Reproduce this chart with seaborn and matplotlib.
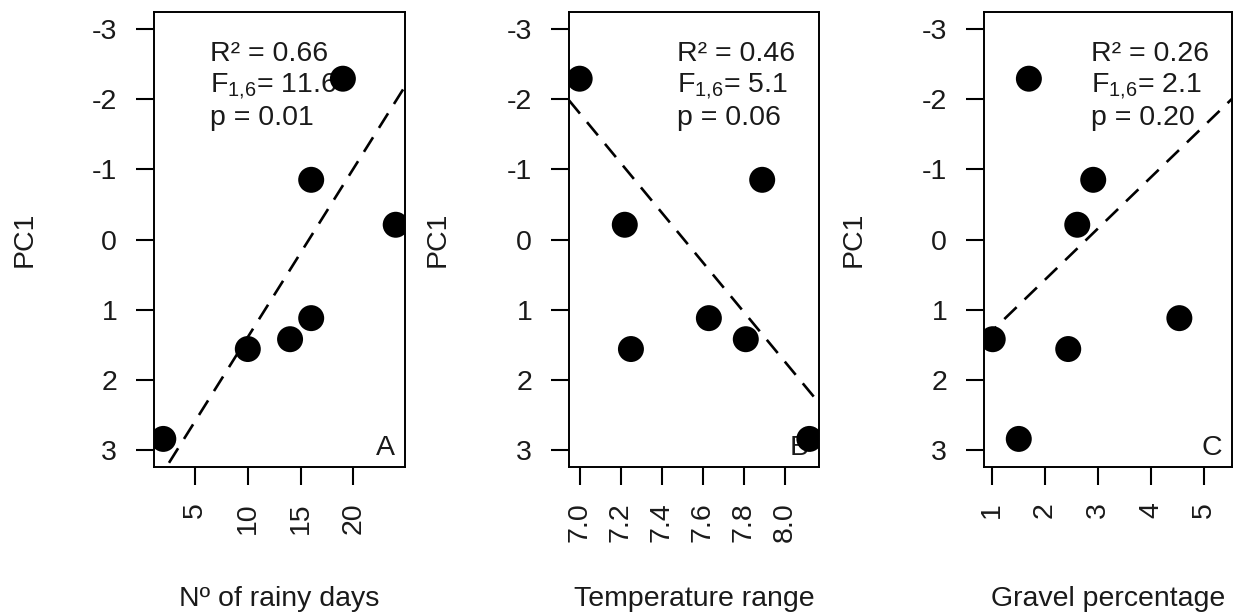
import numpy as np
import pandas as pd
import matplotlib
matplotlib.use("Agg")
import matplotlib.pyplot as plt
import seaborn as sns

# ---- data ----
pc1 = [2.84, 1.56, 1.42, 1.12, -0.85, -2.29, -0.21]
rainy_days = [2, 10, 14, 16, 16, 19, 24]
temp_range = [8.12, 7.25, 7.81, 7.63, 7.89, 7.00, 7.22]
gravel_pct = [1.51, 2.44, 1.02, 4.53, 2.91, 1.70, 2.61]

x_labels = ["Nº of rainy days", "Temperature range", "Gravel percentage"]
panel_letters = ["A", "B", "C"]
r2_text = ["0.66", "0.46", "0.26"]
f_text = ["11.6", "5.1", "2.1"]
p_text = ["0.01", "0.06", "0.20"]
fit_intercept = [3.79, -26.55, 2.04]
fit_slope = [-0.240, 3.536, -0.7325]
x_ticks = [[5, 10, 15, 20], [7.0, 7.2, 7.4, 7.6, 7.8, 8.0], [1, 2, 3, 4, 5]]
x_tick_labels = [["5", "10", "15", "20"],
                 ["7.0", "7.2", "7.4", "7.6", "7.8", "8.0"],
                 ["1", "2", "3", "4", "5"]]
x_limits = [(1.12, 24.88), (6.948, 8.167), (0.856, 5.52)]
y_ticks = [-3, -2, -1, 0, 1, 2, 3]

sns.set_theme(style="white")
plt.rcParams["font.family"] = ["Liberation Sans", "DejaVu Sans"]
plt.rcParams["mathtext.default"] = "regular"

W, H = 1234, 614
fig = plt.figure(figsize=(W / 100, H / 100), dpi=100)
fig.patch.set_facecolor("white")

lefts = [154, 569, 984]
widths = [251, 250, 248]
top, bottom = 12, 467

xs = [rainy_days, temp_range, gravel_pct]
fs = 20.5
tc = "#1a1a1a"
ann_x = [0.223, 0.431, 0.430]
pc1_x = [-0.514, -0.524, -0.524]
for i in range(3):
    ax = fig.add_axes([lefts[i] / W, 1 - bottom / H, widths[i] / W, (bottom - top) / H])
    df = pd.DataFrame({"x": xs[i], "PC1": pc1})
    sns.scatterplot(data=df, x="x", y="PC1", ax=ax, color="black",
                    marker="o", s=350, linewidth=0, edgecolor="none", zorder=5)
    ax.set_xlim(*x_limits[i])
    ax.set_ylim(3.24, -3.24)
    xx = np.array(x_limits[i])
    ax.plot(xx, fit_intercept[i] + fit_slope[i] * xx, color="black", lw=1.9,
            ls=(0, (6.5, 4.2)), zorder=4)
    ax.set_xticks(x_ticks[i])
    ax.set_xticklabels(x_tick_labels[i], rotation=90)
    ax.set_yticks(y_ticks)
    ax.set_yticklabels([str(v) for v in y_ticks])
    ax.tick_params(axis="both", direction="out", length=13, width=1.5,
                   labelsize=fs, color="black", labelcolor=tc,
                   bottom=True, left=True)
    ax.tick_params(axis="y", pad=13.5)
    ax.tick_params(axis="x", pad=12.5)
    for sp in ax.spines.values():
        sp.set_visible(True)
        sp.set_color("black")
        sp.set_linewidth(1.4)
    ax.set_xlabel(x_labels[i], fontsize=fs, color=tc, va="baseline", ha="center")
    ax.xaxis.set_label_coords(0.5, -0.305)
    ax.set_ylabel("PC1", fontsize=fs, color=tc, va="center", ha="center")
    ax.yaxis.set_label_coords(pc1_x[i], 0.5)
    ax.grid(False)
    # annotations
    tx = ann_x[i]
    ax.text(tx, 0.893, "R² = " + r2_text[i], transform=ax.transAxes, fontsize=fs,
            va="baseline", ha="left", color=tc, zorder=3)
    ax.text(tx, 0.824, "F$_{1{,}6}$= " + f_text[i], transform=ax.transAxes, fontsize=fs,
            va="baseline", ha="left", color=tc, zorder=3)
    ax.text(tx, 0.752, "p = " + p_text[i], transform=ax.transAxes, fontsize=fs,
            va="baseline", ha="left", color=tc, zorder=3)
    ax.text(0.96, 0.026, panel_letters[i], transform=ax.transAxes, fontsize=fs,
            va="baseline", ha="right", color=tc, zorder=3)

fig.savefig("out.png", dpi=100, facecolor="white")
